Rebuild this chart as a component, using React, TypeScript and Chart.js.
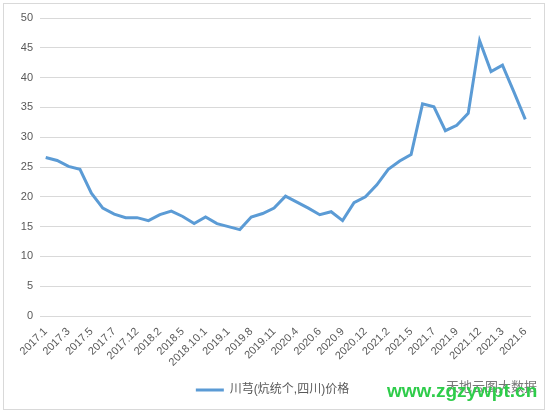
import React, { useEffect, useRef } from "react";
import { Chart, registerables } from "chart.js";

Chart.register(...registerables);

// 43 monthly observations; only every other category label is shown in the original
const categories = [
  "2017.1", "", "2017.3", "", "2017.5", "", "2017.7", "", "2017.12", "",
  "2018.2", "", "2018.5", "", "2018.10.1", "", "2019.1", "", "2019.8", "",
  "2019.11", "", "2020.4", "", "2020.6", "", "2020.9", "", "2020.12", "",
  "2021.2", "", "2021.5", "", "2021.7", "", "2021.9", "", "2021.12", "",
  "2021.3", "", "2021.6",
];

const prices = [
  26.6, 26.1, 25.1, 24.6, 20.6, 18.1, 17.1, 16.5, 16.5, 16.0,
  17.0, 17.6, 16.7, 15.5, 16.6, 15.5, 15.0, 14.5, 16.6, 17.2,
  18.1, 20.1, 19.1, 18.1, 17.0, 17.5, 16.0, 19.0, 20.0, 22.0,
  24.6, 26.0, 27.1, 35.6, 35.1, 31.1, 32.0, 34.0, 46.2, 41.0,
  42.1, 37.6, 33.0,
];

const seriesName = "川芎(炕统个,四川)价格";
const yMin = 0;
const yMax = 50;
const yStep = 5;

export default function App() {
  const ref = useRef<HTMLCanvasElement | null>(null);

  useEffect(() => {
    if (!ref.current) return;
    const font = { family: "'Liberation Sans', 'Noto Sans CJK SC', sans-serif", size: 11 };
    const chart = new Chart(ref.current, {
      type: "line",
      data: {
        labels: categories,
        datasets: [
          {
            label: seriesName,
            data: prices,
            borderColor: "#5b9bd5",
            backgroundColor: "#5b9bd5",
            borderWidth: 3,
            pointRadius: 0,
            tension: 0,
            fill: false,
          },
        ],
      },
      options: {
        responsive: false,
        animation: false,
        layout: { padding: { left: 14, right: 22, top: 18, bottom: 9 } },
        plugins: {
          tooltip: { enabled: false },
          legend: {
            position: "bottom",
            labels: {
              color: "#595959",
              font: { family: "'Liberation Sans', 'Noto Sans CJK SC', sans-serif", size: 12 },
              boxWidth: 28,
              boxHeight: 3,
              padding: 10,
              generateLabels: (c: any) =>
                Chart.defaults.plugins.legend.labels
                  .generateLabels(c)
                  .map((l: any) => ({ ...l, lineWidth: 0, fillStyle: "#5b9bd5", strokeStyle: "#5b9bd5" })),
            },
          },
        },
        scales: {
          x: {
            offset: true,
            grid: { display: false, drawTicks: false },
            border: { display: false },
            ticks: {
              autoSkip: false,
              maxRotation: 45,
              minRotation: 45,
              color: "#595959",
              font,
              padding: 9,
            },
            afterFit: (s: any) => {
              s.height = 58;
            },
          },
          y: {
            min: yMin,
            max: yMax,
            ticks: { stepSize: yStep, color: "#595959", font, padding: 7 },
            grid: { color: "#d9d9d9", drawTicks: false, lineWidth: 1 },
            border: { display: false },
            afterFit: (s: any) => {
              s.width = 26;
            },
          },
        },
      },
    });
    return () => chart.destroy();
  }, []);

  return (
    <div style={{ position: "fixed", left: 0, top: 0, width: 553, height: 415, background: "#fff", overflow: "hidden" }}>
      <div
        style={{
          position: "absolute",
          left: 3,
          top: 3,
          width: 542,
          height: 407,
          border: "1px solid #d9d9d9",
          boxSizing: "border-box",
        }}
      />
      <canvas ref={ref} width={553} height={415} style={{ position: "absolute", left: 0, top: 0 }} />
      <div
        style={{
          position: "absolute",
          left: 446,
          top: 376,
          font: "13px 'Noto Sans CJK SC', sans-serif",
          color: "#777",
          whiteSpace: "nowrap",
        }}
      >
        天地云图大数据
      </div>
      <div
        style={{
          position: "absolute",
          left: 387,
          top: 380,
          font: "bold 19px 'Liberation Sans', sans-serif",
          color: "#2ecc4a",
          whiteSpace: "nowrap",
        }}
      >
        www.zgzywpt.cn
      </div>
    </div>
  );
}
